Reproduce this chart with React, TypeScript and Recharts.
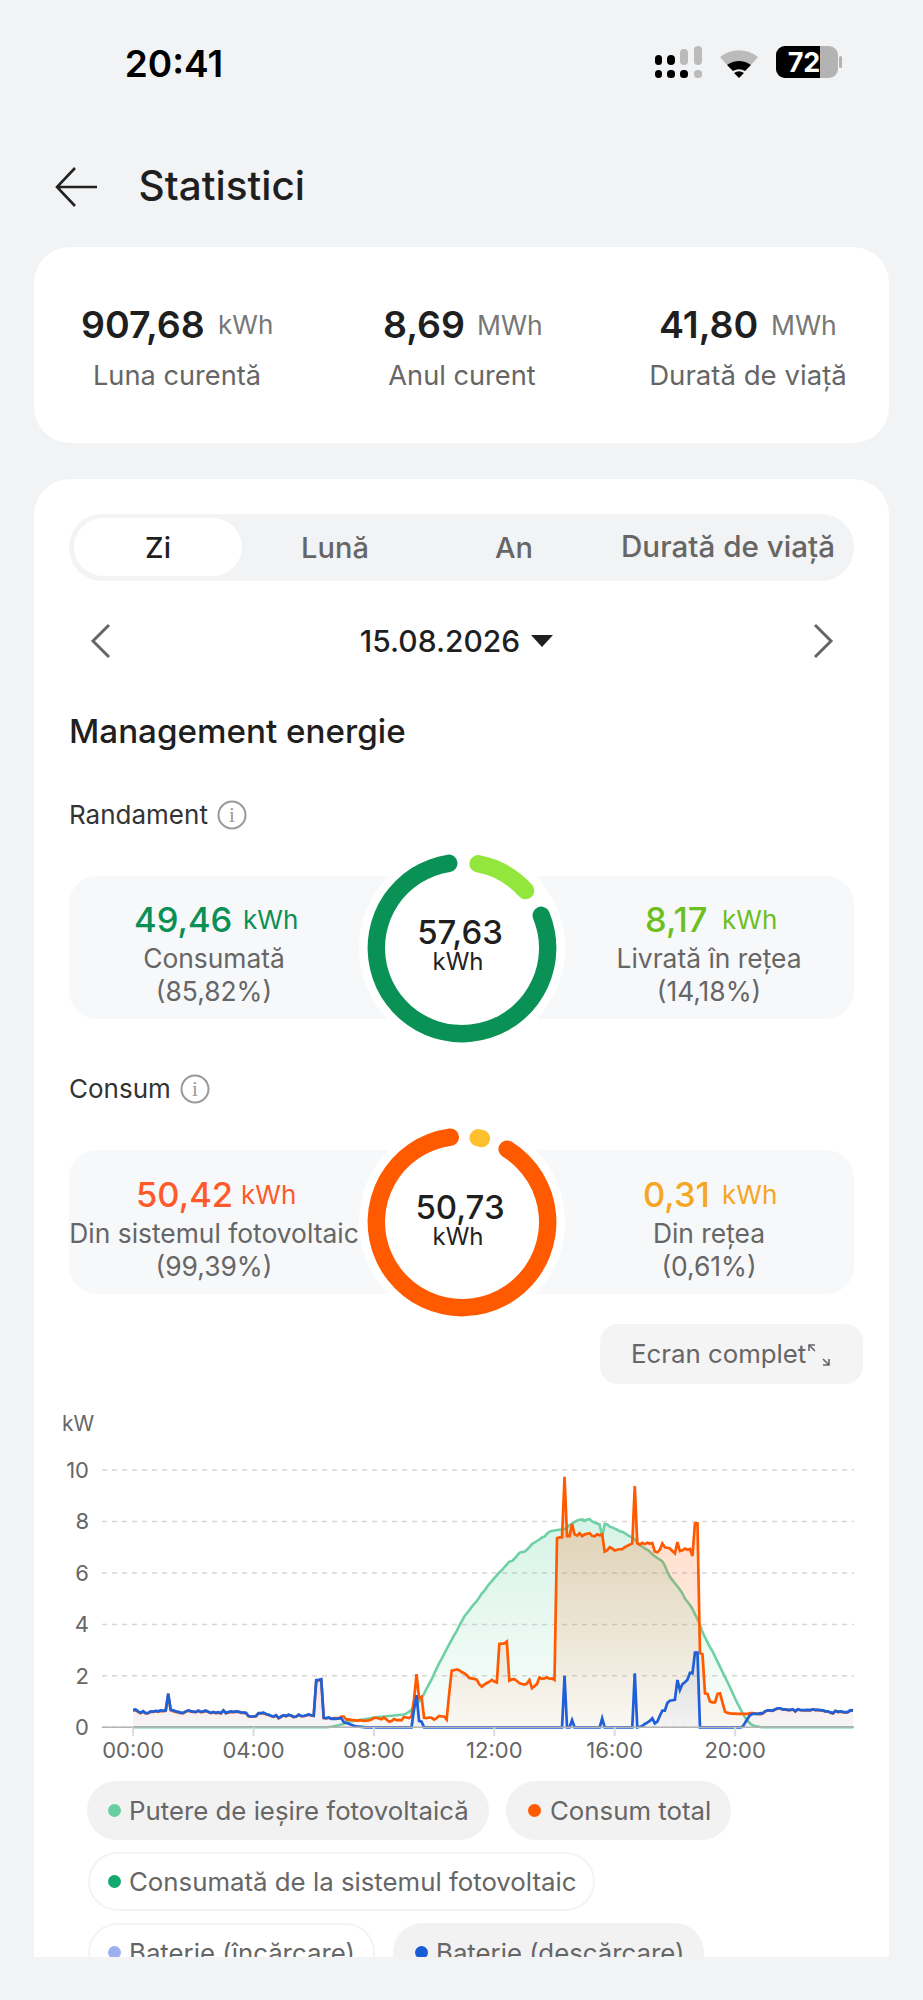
import { Area, CartesianGrid, Cell, ComposedChart, Pie, PieChart, XAxis, YAxis } from "recharts";

const Y_TICKS = [0, 2, 4, 6, 8, 10];
const X_TICKS = [0, 240, 480, 720, 960, 1200];
const X_LABELS = ["00:00", "04:00", "08:00", "12:00", "16:00", "20:00"];

// one value every 5 minutes, 12 per row = one hour
const PV_OUTPUT = [
  0,0,0,0,0,0,0,0,0,0,0,0,
  0,0,0,0,0,0,0,0,0,0,0,0,
  0,0,0,0,0,0,0,0,0,0,0,0,
  0,0,0,0,0,0,0,0,0,0,0,0,
  0,0,0,0,0,0,0,0,0,0,0,0,
  0,0,0,0,0,0,0,0,0,0,0,0,
  0,0,0,0,0,0,.01,.02,.04,.06,.08,.11,
  .14,.18,.22,.24,.25,.27,.28,.3,.31,.33,.34,.36,
  .38,.39,.4,.41,.42,.43,.44,.45,.46,.47,.48,.49,
  .5,.54,.6,.68,.76,.87,1,1.15,1.3,1.5,1.68,1.86,
  2.08,2.28,2.49,2.66,2.85,3.04,3.22,3.4,3.58,3.74,3.94,4.12,
  4.3,4.42,4.55,4.68,4.8,4.9,5.05,5.2,5.3,5.44,5.57,5.68,
  5.8,5.9,6.02,6.11,6.22,6.33,6.44,6.46,6.55,6.66,6.78,6.81,
  6.82,6.9,7,7.12,7.18,7.24,7.3,7.38,7.41,7.52,7.6,7.63,
  7.65,7.67,7.68,7.69,7.7,7.76,7.86,7.92,7.98,8.03,8.07,8.08,
  8.03,8.08,8.09,8,7.96,7.92,7.88,7.41,7.9,7.88,7.8,7.77,
  7.72,7.68,7.62,7.6,7.55,7.48,7.42,7.38,7.3,7.2,7.08,7.02,
  6.95,6.9,6.83,6.72,6.65,6.58,6.52,6.45,6.28,6.05,5.85,5.72,
  5.6,5.48,5.35,5.2,5,4.88,4.75,4.6,4.4,4.2,3.98,3.7,
  3.5,3.3,3.12,2.95,2.75,2.55,2.35,2.15,1.95,1.75,1.55,1.33,
  1.12,.92,.74,.55,.38,.25,.15,.08,.05,.03,.01,0,
  0,0,0,0,0,0,0,0,0,0,0,0,
  0,0,0,0,0,0,0,0,0,0,0,0,
  0,0,0,0,0,0,0,0,0,0,0,0,
];

const TOTAL_CONSUMPTION = [
  .66,.67,.6,.55,.6,.54,.55,.6,.6,.63,.6,.64,
  .63,.64,1.25,.66,.63,.6,.58,.55,.55,.6,.64,.61,
  .6,.59,.63,.59,.6,.63,.59,.55,.58,.55,.57,.54,
  .64,.55,.58,.6,.59,.6,.6,.56,.56,.55,.43,.41,
  .41,.43,.53,.54,.55,.51,.48,.44,.41,.46,.35,.41,
  .46,.43,.48,.45,.4,.41,.48,.43,.43,.46,.49,.46,
  .44,1.78,1.82,1.85,.36,.35,.37,.34,.36,.36,.35,.42,
  .42,.3,.31,.29,.28,.26,.27,.27,.25,.26,.27,.3,
  .36,.37,.34,.31,.38,.3,.22,.24,.32,.28,.29,.27,
  .4,.38,.36,.42,1.1,2.07,1.13,1.19,.37,.36,.38,.37,
  .3,.36,.44,.42,.42,.3,1.3,2.2,2.22,2.25,2.22,2.15,
  2.1,2.03,1.92,1.9,1.88,1.85,1.68,1.58,1.66,1.72,1.77,1.84,
  1.78,1.74,3.24,3.25,3.26,3.33,1.81,1.86,1.87,1.8,1.72,1.68,
  1.66,1.7,1.84,1.52,1.6,1.68,1.94,1.88,1.9,1.94,1.88,1.9,
  1.84,7.35,7.38,7.38,9.74,7.43,7.43,7.9,7.5,7.45,7.54,7.43,
  7.5,7.52,7.54,7.44,7.42,7.5,7.46,7.5,6.83,6.88,7,6.95,
  6.87,6.9,6.92,6.92,7,7.05,7.1,7.15,9.38,7.15,7.1,7.17,
  7.12,7.17,7.14,7.16,6.83,6.8,6.9,7.15,7,6.98,6.95,6.85,
  6.76,7.2,6.85,6.88,6.95,6.9,6.93,6.66,7.93,7.93,2.88,2.84,
  1.32,1.3,1,.97,.97,1.3,1.32,.95,.6,.56,.54,.53,
  .53,.52,.52,.52,.52,.52,.55,.55,.54,.52,.5,.54,
  .62,.65,.65,.64,.69,.73,.73,.69,.69,.67,.67,.69,
  .61,.69,.67,.66,.66,.67,.66,.69,.67,.67,.66,.65,
  .61,.61,.57,.54,.63,.59,.61,.59,.57,.59,.66,.65,
];

const BATTERY_DISCHARGE = [
  .67,.69,.62,.57,.63,.55,.56,.62,.61,.64,.62,.66,
  .64,.66,1.32,.68,.66,.62,.6,.57,.56,.62,.66,.63,
  .61,.6,.65,.6,.62,.65,.6,.56,.6,.56,.59,.55,
  .66,.56,.59,.62,.6,.62,.61,.58,.57,.56,.44,.42,
  .42,.44,.55,.55,.57,.52,.49,.45,.42,.47,.36,.42,
  .47,.44,.49,.46,.41,.42,.49,.44,.44,.47,.5,.47,
  .45,1.83,1.85,1.87,.37,.36,.38,.33,.34,.33,.35,.36,
  .2,.17,.14,.1,.06,.04,.03,.02,.01,0,0,0,
  0,0,0,0,0,0,0,0,0,0,0,0,
  0,0,0,0,.7,1.25,.25,.22,0,0,0,0,
  0,0,0,0,0,0,0,0,0,0,0,0,
  0,0,0,0,0,0,0,0,0,0,0,0,
  0,0,0,0,0,0,0,0,0,0,0,0,
  0,0,0,0,0,0,0,0,0,0,0,0,
  0,0,0,0,2,0,0,.28,0,0,0,0,
  0,0,0,0,0,0,0,.35,0,0,0,0,
  0,0,0,0,0,0,0,0,2.1,0,.02,.05,
  .13,.18,.25,.35,.15,.22,.45,.65,.65,.95,1.03,1.05,
  1.07,1.84,1.45,1.68,1.75,1.85,2.12,2.1,2.9,2.9,0,0,
  0,0,0,0,0,0,0,0,0,0,0,0,
  0,0,0,.02,.18,.33,.48,.52,.52,.52,.55,.54,
  .63,.66,.66,.65,.7,.74,.74,.7,.7,.68,.68,.7,
  .62,.7,.68,.67,.67,.68,.67,.7,.68,.68,.67,.66,
  .62,.62,.58,.55,.64,.6,.62,.6,.58,.6,.67,.66,
];

const chartData = PV_OUTPUT.map((pv, i) => ({
  minute: i * 5,
  pv,
  total: TOTAL_CONSUMPTION[i],
  battery: BATTERY_DISCHARGE[i],
}));

const YIELD_LABELS = ["Livrată în rețea", "Consumată"];
const YIELD_VALUES = [8.17, 49.46];
const YIELD_COLORS = ["#93e63c", "#0a9155"];
const USE_LABELS = ["Din rețea", "Din sistemul fotovoltaic"];
const USE_VALUES = [0.31, 50.42];
const USE_COLORS = ["#ffc02d", "#ff5a00"];

const FONT = "Inter, 'Noto Sans', sans-serif";

// centre or left anchored text, y is the vertical middle
const T = ({ x, y, s, c = "#666", w = 400, a = "c", children }: any) => (
  <div
    style={{
      position: "absolute",
      left: x,
      top: y,
      transform: a === "c" ? "translate(-50%,-50%)" : "translate(0,-50%)",
      fontSize: s,
      color: c,
      fontWeight: w,
      whiteSpace: "nowrap",
      lineHeight: 1,
    }}
  >
    {children}
  </div>
);

const Box = ({ x, y, w, h, r, bg = "#fff", border, children, hidden }: any) => (
  <div
    style={{
      position: "absolute",
      left: x,
      top: y,
      width: w,
      height: h,
      borderRadius: r,
      background: bg,
      border,
      boxSizing: "border-box",
      overflow: hidden ? "hidden" : undefined,
    }}
  >
    {children}
  </div>
);

const Ring = ({ cy, values, names, colors, start, pad, minAngle }: any) => (
  <>
    <div style={{ position: "absolute", left: 358.5, top: cy - 103, width: 206, height: 206, borderRadius: 103, background: "#fff" }} />
    <div style={{ position: "absolute", left: 361.5, top: cy - 100 }}>
      <PieChart width={200} height={200} margin={{ top: 0, right: 0, bottom: 0, left: 0 }}>
        <Pie
          data={values.map((value: number, i: number) => ({ name: names[i], value }))}
          dataKey="value"
          cx={100}
          cy={100}
          innerRadius={77}
          outerRadius={94.4}
          startAngle={start}
          endAngle={start - 360}
          paddingAngle={pad}
          minAngle={minAngle}
          cornerRadius={8.7}
          stroke="none"
          isAnimationActive={false}
        >
          {values.map((_: number, i: number) => (
            <Cell key={i} fill={colors[i]} />
          ))}
        </Pie>
      </PieChart>
    </div>
  </>
);

const Info = ({ x, y }: any) => (
  <svg style={{ position: "absolute", left: x - 15, top: y - 15 }} width={30} height={30}>
    <circle cx={15} cy={15} r={13.5} fill="none" stroke="#999" strokeWidth={2} />
    <text x={15} y={22} textAnchor="middle" fontSize={21} fill="#999" fontFamily="'Liberation Serif', serif">i</text>
  </svg>
);

const Chip = ({ x, y, w, on, dot, dotX, textX, children }: any) => (
  <>
    <Box x={x} y={y} w={w} h={59} r={30} bg={on ? "#f2f2f3" : "#fff"} border={on ? undefined : "2px solid #f3f3f4"} />
    <div style={{ position: "absolute", left: dotX - 6.5, top: y + 23, width: 13, height: 13, borderRadius: 7, background: dot }} />
    <T x={textX} y={y + 30} s={25.8} a="l">{children}</T>
  </>
);

const App = () => {
  return (
    <div style={{ position: "absolute", left: 0, top: 0, width: 923, height: 2000, background: "#f2f3f5", overflow: "hidden", fontFamily: FONT }}>
      {/* status bar */}
      <T x={174} y={63} s={37} c="#000" w={600}>20:41</T>
      <svg style={{ position: "absolute", left: 650, top: 40 }} width={200} height={44}>
        <rect x={5} y={15} width={7} height={10} rx={3.5} fill="#000" />
        <rect x={5} y={30} width={7} height={8} rx={3.5} fill="#000" />
        <rect x={17} y={15} width={8} height={10} rx={4} fill="#000" />
        <rect x={17} y={30} width={8} height={8} rx={3.5} fill="#000" />
        <rect x={30} y={9} width={8} height={16} rx={4} fill="#bbb" />
        <rect x={30} y={30} width={8} height={8} rx={3.5} fill="#000" />
        <rect x={44} y={6} width={8} height={19} rx={4} fill="#bbb" />
        <rect x={44} y={30} width={8} height={8} rx={3.5} fill="#bbb" />
        <path d="M70 17 A30 30 0 0 1 108 17 L101 25 A20 20 0 0 0 77 25 Z" fill="#bbb" />
        <path d="M77 25 A20 20 0 0 1 101 25 L95 31 A12 12 0 0 0 83 31 Z" fill="#000" />
        <path d="M84 33 A9 9 0 0 1 94 33 L89 38 Z" fill="#000" />
        <rect x={126} y={6} width={62} height={32} rx={9} fill="#b3b3b3" />
        <path d="M135 6 H170 V38 H135 A9 9 0 0 1 126 29 V15 A9 9 0 0 1 135 6 Z" fill="#000" />
        <rect x={189} y={16} width={3} height={12} rx={1.5} fill="#b3b3b3" />
        <text x={154} y={32} textAnchor="middle" fontSize={27} fontWeight={700} fill="#fff" fontFamily={FONT}>72</text>
      </svg>

      {/* header */}
      <svg style={{ position: "absolute", left: 50, top: 160 }} width={56} height={52}>
        <path d="M25 8 L7 27 L25 46 M7 27 H47" fill="none" stroke="#222" strokeWidth={2.6} />
      </svg>
      <T x={138.5} y={186} s={40.5} c="#1f1f1f" w={500} a="l">Statistici</T>

      {/* totals card */}
      <Box x={34} y={247} w={855} h={196} r={36} />
      <T x={81} y={325} s={37.5} c="#1f1f1f" w={600} a="l">907,68</T>
      <T x={218} y={325} s={26} c="#777" a="l">kWh</T>
      <T x={177} y={376} s={27.2}>Luna curentă</T>
      <T x={383} y={325} s={37.5} c="#1f1f1f" w={600} a="l">8,69</T>
      <T x={477} y={325} s={26.5} c="#777" a="l">MWh</T>
      <T x={462} y={376} s={27.2}>Anul curent</T>
      <T x={659} y={325} s={37.5} c="#1f1f1f" w={600} a="l">41,80</T>
      <T x={771} y={325} s={26.5} c="#777" a="l">MWh</T>
      <T x={748} y={376} s={27.6}>Durată de viață</T>

      {/* main card */}
      <Box x={34} y={479} w={855} h={1520} r={36} />
      <Box x={69} y={514} w={785} h={67} r={33} bg="#f2f3f5" />
      <Box x={74} y={518} w={168} h={58} r={29} />
      <T x={158} y={547} s={29} c="#1f1f1f" w={500}>Zi</T>
      <T x={335} y={547} s={29} w={500}>Lună</T>
      <T x={514} y={547} s={29} w={500}>An</T>
      <T x={728} y={547} s={29.6} w={500}>Durată de viață</T>

      <svg style={{ position: "absolute", left: 85, top: 620 }} width={40} height={42}>
        <path d="M24 5 L8 21 L24 37" fill="none" stroke="#666" strokeWidth={3} />
      </svg>
      <svg style={{ position: "absolute", left: 805, top: 620 }} width={40} height={42}>
        <path d="M10 5 L26 21 L10 37" fill="none" stroke="#666" strokeWidth={3} />
      </svg>
      <T x={440} y={641} s={30} c="#1f1f1f" w={500}>15.08.2026</T>
      <svg style={{ position: "absolute", left: 530, top: 634 }} width={24} height={14}>
        <path d="M1 1 H23 L12 13 Z" fill="#1f1f1f" />
      </svg>

      <T x={69} y={732} s={33.2} c="#1f1f1f" w={500} a="l">Management energie</T>

      {/* yield */}
      <T x={69} y={815} s={26} c="#333" a="l">Randament</T>
      <Info x={232} y={815} />
      <Box x={69} y={876} w={785} h={143} r={28} bg="#f7f8fa" />
      <Ring cy={948} values={YIELD_VALUES} names={YIELD_LABELS} colors={YIELD_COLORS} start={85} pad={8} minAngle={14} />
      <T x={460} y={931.5} s={33} c="#1f1f1f" w={500}>57,63</T>
      <T x={458} y={962} s={24} c="#222">kWh</T>
      <T x={134} y={920} s={34.5} c="#0a8f55" w={500} a="l">49,46</T>
      <T x={243} y={920} s={26} c="#0a8f55" a="l">kWh</T>
      <T x={214} y={958} s={26.4}>Consumată</T>
      <T x={214} y={991} s={26.4}>(85,82%)</T>
      <T x={645} y={920} s={34.5} c="#6cbf1f" w={500} a="l">8,17</T>
      <T x={722} y={920} s={26} c="#6cbf1f" a="l">kWh</T>
      <T x={709} y={958} s={26.4}>Livrată în rețea</T>
      <T x={709} y={991} s={26.4}>(14,18%)</T>

      {/* use */}
      <T x={69} y={1089} s={26} c="#333" a="l">Consum</T>
      <Info x={195} y={1089} />
      <Box x={69} y={1150} w={785} h={144} r={28} bg="#f7f8fa" />
      <Ring cy={1222} values={USE_VALUES} names={USE_LABELS} colors={USE_COLORS} start={85} pad={7} minAngle={12} />
      <T x={460} y={1206.5} s={33} c="#1f1f1f" w={500}>50,73</T>
      <T x={458} y={1237} s={24} c="#222">kWh</T>
      <T x={136} y={1195} s={34.5} c="#ff5a2a" w={500} a="l">50,42</T>
      <T x={241} y={1195} s={26} c="#ff5a2a" a="l">kWh</T>
      <T x={214} y={1233} s={26.4}>Din sistemul fotovoltaic</T>
      <T x={214} y={1266} s={26.4}>(99,39%)</T>
      <T x={643} y={1195} s={34.5} c="#f5a623" w={500} a="l">0,31</T>
      <T x={722} y={1195} s={26} c="#f5a623" a="l">kWh</T>
      <T x={709} y={1233} s={26.4}>Din rețea</T>
      <T x={709} y={1266} s={26.4}>(0,61%)</T>

      {/* full screen button */}
      <Box x={600} y={1324} w={263} h={60} r={18} bg="#f4f4f5" />
      <T x={631} y={1354} s={25.8} a="l">Ecran complet</T>
      <svg style={{ position: "absolute", left: 806, top: 1342 }} width={26} height={26}>
        <path d="M3 9 V3 H9 M3 3 L9 9 M23 17 V23 H17 M23 23 L17 17" fill="none" stroke="#666" strokeWidth={1.6} />
      </svg>

      {/* power chart */}
      <T x={78} y={1423} s={21}>kW</T>
      <div style={{ position: "absolute", left: 0, top: 1440 }}>
        <ComposedChart width={923} height={400} data={chartData} margin={{ top: 30, right: 69, bottom: 72.7, left: 62 }}>
          <defs>
            <linearGradient id="pvFill" x1="0" y1="0" x2="0" y2="1">
              <stop offset="0%" stopColor="#5fcf9f" stopOpacity={0.42} />
              <stop offset="100%" stopColor="#5fcf9f" stopOpacity={0.05} />
            </linearGradient>
            <linearGradient id="totalFill" x1="0" y1="0" x2="0" y2="1">
              <stop offset="0%" stopColor="#ff5a00" stopOpacity={0.42} />
              <stop offset="100%" stopColor="#ff5a00" stopOpacity={0.06} />
            </linearGradient>
            <linearGradient id="batteryFill" x1="0" y1="0" x2="0" y2="1">
              <stop offset="0%" stopColor="#2a5fd0" stopOpacity={0.18} />
              <stop offset="100%" stopColor="#2a5fd0" stopOpacity={0.05} />
            </linearGradient>
          </defs>
          <CartesianGrid vertical={false} stroke="#d6d6d6" strokeWidth={1.5} strokeDasharray="5 5" />
          <XAxis
            dataKey="minute"
            type="number"
            domain={[-62, 1437]}
            ticks={X_TICKS}
            tickFormatter={(m: number) => X_LABELS[X_TICKS.indexOf(m)]}
            interval={0}
            height={40}
            tickSize={9}
            tickMargin={6}
            axisLine={{ stroke: "#b3b3b3", strokeWidth: 1.5 }}
            tickLine={{ stroke: "#dcdcdc", strokeWidth: 2 }}
            tick={{ fontSize: 22, fill: "#666", fontFamily: FONT }}
          />
          <YAxis
            domain={[0, 10]}
            ticks={Y_TICKS}
            width={40}
            axisLine={false}
            tickLine={false}
            tickSize={0}
            tickMargin={13}
            tick={{ fontSize: 22, fill: "#666", fontFamily: FONT }}
          />
          <Area dataKey="pv" type="linear" stroke="#6fd0a5" strokeWidth={2.6} fill="url(#pvFill)" dot={false} activeDot={false} isAnimationActive={false} />
          <Area dataKey="total" type="linear" stroke="#ff5a00" strokeWidth={2.7} fill="url(#totalFill)" dot={false} activeDot={false} isAnimationActive={false} />
          <Area dataKey="battery" type="linear" stroke="#1f5fd8" strokeWidth={2.7} fill="url(#batteryFill)" dot={false} activeDot={false} isAnimationActive={false} />
        </ComposedChart>
      </div>

      {/* legend */}
      <Chip x={87} y={1781} w={402} on dot="#68cfa3" dotX={114} textX={129}>Putere de ieșire fotovoltaică</Chip>
      <Chip x={506} y={1781} w={225} on dot="#ff5a00" dotX={534} textX={550}>Consum total</Chip>
      <Chip x={88} y={1852} w={507} dot="#14a96e" dotX={114} textX={129}>Consumată de la sistemul fotovoltaic</Chip>
      <Chip x={88} y={1923} w={287} dot="#9db0ee" dotX={114} textX={129}>Baterie (încărcare)</Chip>
      <Chip x={393} y={1923} w={311} on dot="#1a5cd6" dotX={421} textX={436}>Baterie (descărcare)</Chip>

      {/* bottom strip clips the last chips */}
      <div style={{ position: "absolute", left: 0, top: 1957, width: 923, height: 43, background: "#f2f3f5" }} />
    </div>
  );
};

export default App;
